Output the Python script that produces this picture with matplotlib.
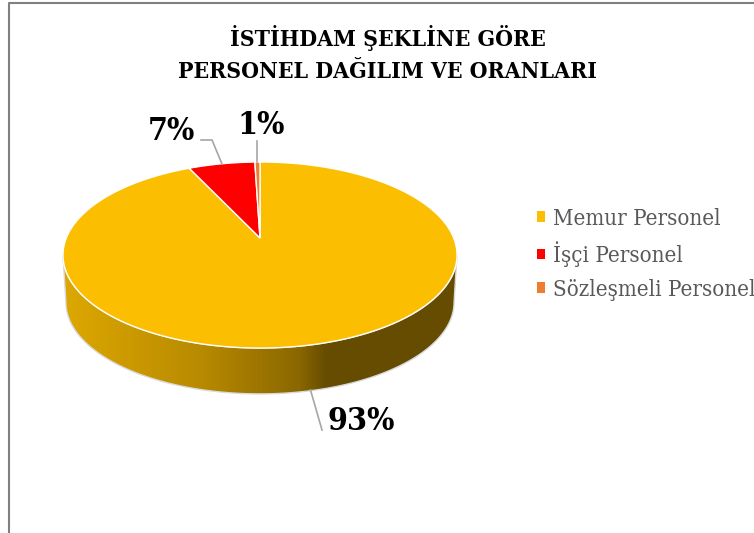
import matplotlib
matplotlib.use('Agg')
import matplotlib.pyplot as plt
import numpy as np
from matplotlib.colors import LinearSegmentedColormap
from matplotlib.patches import Polygon

# veriler
categories = ['Memur Personel', 'İşçi Personel', 'Sözleşmeli Personel']
values = [93.0, 6.5, 0.5]
value_labels = ['93%', '7%', '1%']
colors = ['#FBBE00', '#FF0000', '#ED7D31']
title = 'İSTİHDAM ŞEKLİNE GÖRE\nPERSONEL DAĞILIM VE ORANLARI'

plt.rcParams['font.family'] = ['DejaVu Serif']
plt.rcParams['font.stretch'] = 'condensed'

# piksel koordinatli eksen
fig = plt.figure(figsize=(7.54, 5.33), dpi=100)
ax = fig.add_axes([0, 0, 1, 1])

# perspektifli pasta geometrisi
cx, cy = 260, 238
A, B, k = 193.7, 89.9, 0.183
depth = 47.5


def rim(theta, scale=1.0, dy=0):
    x = cx + scale * A * np.sin(theta) / (1 + k * np.cos(theta))
    y = cy + dy - scale * B * np.cos(theta) / (1 + k * np.cos(theta))
    return x, y


# yan yuzey (gradyan)
t0 = np.arccos(-k)
t_side = np.linspace(t0, 2 * np.pi - t0, 200)
x_top, y_top = rim(t_side)
x_low, y_low = rim(t_side, scale=0.985, dy=depth)
side_xy = np.column_stack([np.r_[x_top, x_low[::-1]], np.r_[y_top, y_low[::-1]]])

side_cmap = LinearSegmentedColormap.from_list('side', [
    (0.0, '#DDA800'), (0.35, '#B88A00'), (0.6, '#8A6700'), (0.67, '#664C00'), (1.0, '#664C00')])
grad = np.linspace(0, 1, 400).reshape(1, -1)
img = ax.imshow(grad, cmap=side_cmap, extent=[63, 457, 400, 250], aspect='auto', zorder=1)
side = Polygon(side_xy, closed=True, facecolor='none', edgecolor='#D9D9D9', linewidth=1, zorder=2)
ax.add_patch(side)
img.set_clip_path(side)

# ust yuzey dilimleri
edges = np.cumsum([0] + values) / np.sum(values) * 2 * np.pi
handles = []
for i, name in enumerate(categories):
    t = np.linspace(edges[i], edges[i + 1], 300)
    x, y = rim(t)
    h = ax.fill(np.r_[cx, x], np.r_[cy, y], facecolor=colors[i], edgecolor='white',
                linewidth=1.0, label=name, zorder=3)
    handles.append(h[0])

# kenar cizgileri
leader_x = [[310.5, 322], [201, 212, 222], [257, 257]]
leader_y = [[390, 430], [140, 140, 164], [141, 162]]
for lx, ly in zip(leader_x, leader_y):
    ax.plot(lx, ly, color='#A6A6A6', linewidth=1.2, zorder=4)

label_x = [361, 171, 261]
label_y = [422, 131.5, 125.5]
for i, s in enumerate(value_labels):
    ax.text(label_x[i], label_y[i], s, ha='center', va='center', fontsize=23,
            fontweight='bold', color='black', zorder=5)

ax.text(388, 54, title, ha='center', va='center', fontsize=16.5, fontweight='bold',
        color='black', linespacing=1.6)

# lejant
leg = ax.legend(handles=handles, loc='upper left', bbox_to_anchor=(530 / 754, 1 - 201 / 533),
                frameon=False, fontsize=16, labelcolor='#595959', handlelength=0.36,
                handleheight=0.36, handletextpad=0.36, labelspacing=0.52,
                borderaxespad=0, borderpad=0.3)
for p in leg.get_patches():
    p.set_edgecolor('none')

# cerceve: ust ve sol
ax.plot([9, 9, 754], [533, 3, 3], color='#808080', linewidth=1.5, zorder=6)

ax.set_xlim(0, 754)
ax.set_ylim(533, 0)
ax.axis('off')

fig.savefig('out.png', dpi=100)
